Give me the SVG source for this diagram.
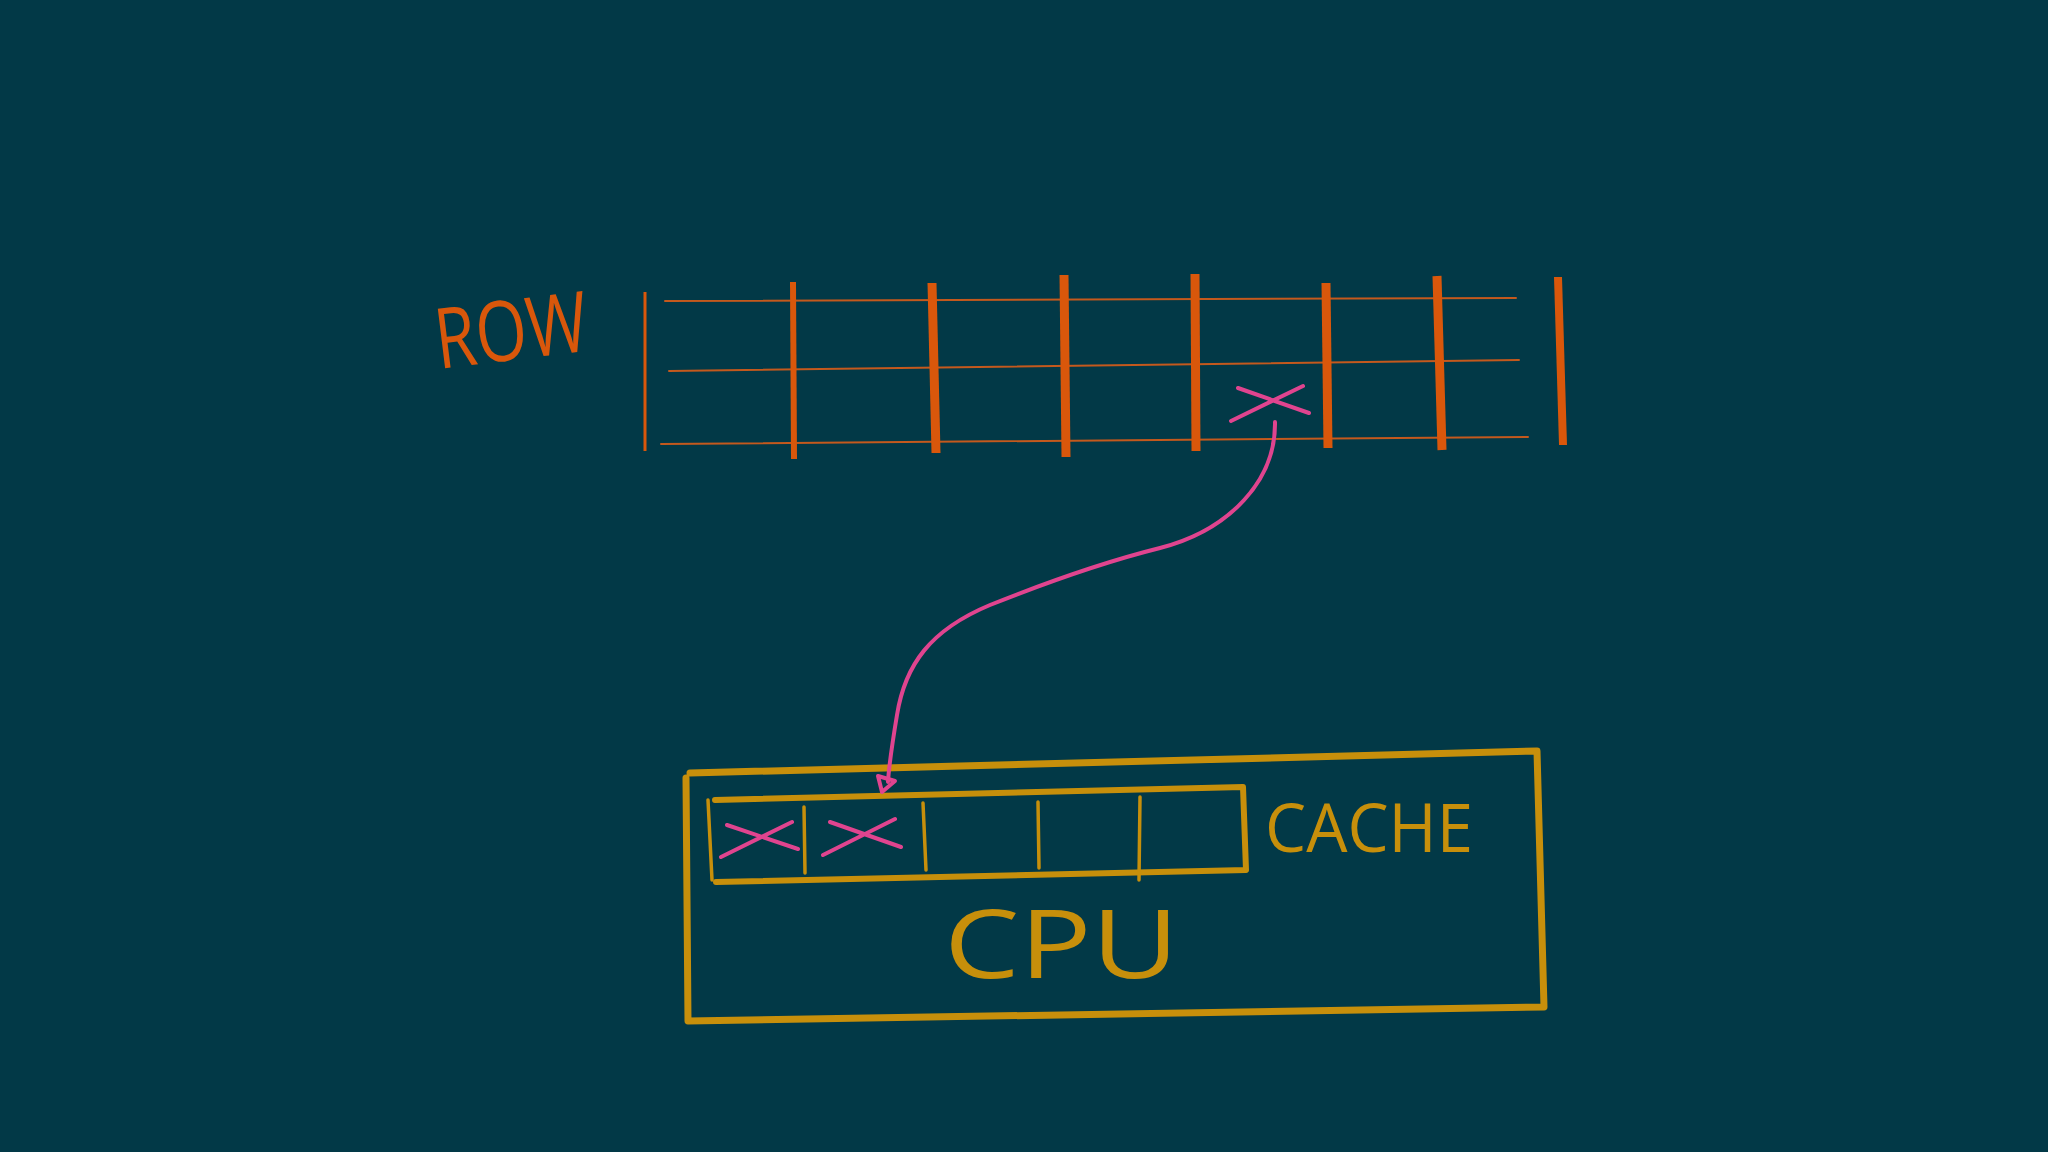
<svg xmlns="http://www.w3.org/2000/svg" width="2048" height="1152" viewBox="0 0 2048 1152">
<defs>
<style>
.bg{fill:#023947}
.grid{stroke:#c4591d;stroke-width:2;fill:none;stroke-linecap:round}
.bar{stroke:#d9570b;stroke-width:9;fill:none}
.gold{stroke:#c78f0b;fill:none;stroke-linecap:round;stroke-linejoin:round}
.pink{stroke:#e0448f;fill:none;stroke-linecap:round;stroke-linejoin:round}
.lbl{font-family:"Open Sans","Liberation Sans",sans-serif}
</style>
</defs>
<rect class="bg" x="0" y="0" width="2048" height="1152"/>

<g id="row">
  <line x1="645" y1="292" x2="645" y2="451" stroke="#d9570b" stroke-width="3"/>
  <path class="grid" d="M665,301 L1516,298"/>
  <path class="grid" d="M669,371 L1519,360"/>
  <path class="grid" d="M661,444 L1528,437"/>
  <line class="bar" x1="793" y1="282" x2="794" y2="459" style="stroke-width:6"/>
  <line class="bar" x1="932" y1="283" x2="936" y2="453"/>
  <line class="bar" x1="1064" y1="275" x2="1066" y2="457"/>
  <line class="bar" x1="1195" y1="274" x2="1196" y2="451"/>
  <line class="bar" x1="1326" y1="283" x2="1328" y2="448"/>
  <line class="bar" x1="1437" y1="276" x2="1442" y2="450"/>
  <line class="bar" x1="1558" y1="277" x2="1563" y2="445" style="stroke-width:8"/>
  <path class="pink" stroke-width="4" d="M1238,388 L1309,413 M1231,421 L1303,386"/>
</g>

<g id="row-label">
  <text class="lbl" x="434" y="360" font-size="84" font-weight="400" fill="#d9570b" textLength="153" lengthAdjust="spacingAndGlyphs" transform="rotate(-7 510 325)">ROW</text>
</g>

<g id="cpu">
  <path class="gold" stroke-width="7" d="M690,773 L1537,751 L1544,1007 L688,1021 L686,778"/>
  <text class="lbl" x="944" y="978" font-size="95" font-weight="400" fill="#c78f0b" textLength="235" lengthAdjust="spacingAndGlyphs">CPU</text>
</g>

<g id="cache">
  <path class="gold" stroke-width="6" d="M715,800 L1243,787 L1246,870 L716,882"/>
  <path class="gold" stroke-width="3.5" d="M708,800 L712,880"/>
  <path class="gold" stroke-width="3.5" d="M804,807 L805,873 M923,803 L926,870 M1038,802 L1039,868 M1140,797 L1139,880"/>
  <path class="pink" stroke-width="4" d="M727,825 L798,849 M721,857 L792,822 M830,822 L901,847 M823,855 L895,819"/>
  <text class="lbl" x="1265" y="852" font-size="68" font-weight="400" fill="#c78f0b" textLength="208" lengthAdjust="spacingAndGlyphs">CACHE</text>
</g>

<g id="connectors">
  <path class="pink" stroke-width="4" d="M1275,422 C1276,480 1230,530 1160,548 C1100,563 1040,585 990,605 C930,630 905,665 897,715 C892,745 889,765 888,782"/>
  <path class="pink" stroke-width="4" d="M878,776 L895,781 L882,792 Z"/>
</g>
</svg>
